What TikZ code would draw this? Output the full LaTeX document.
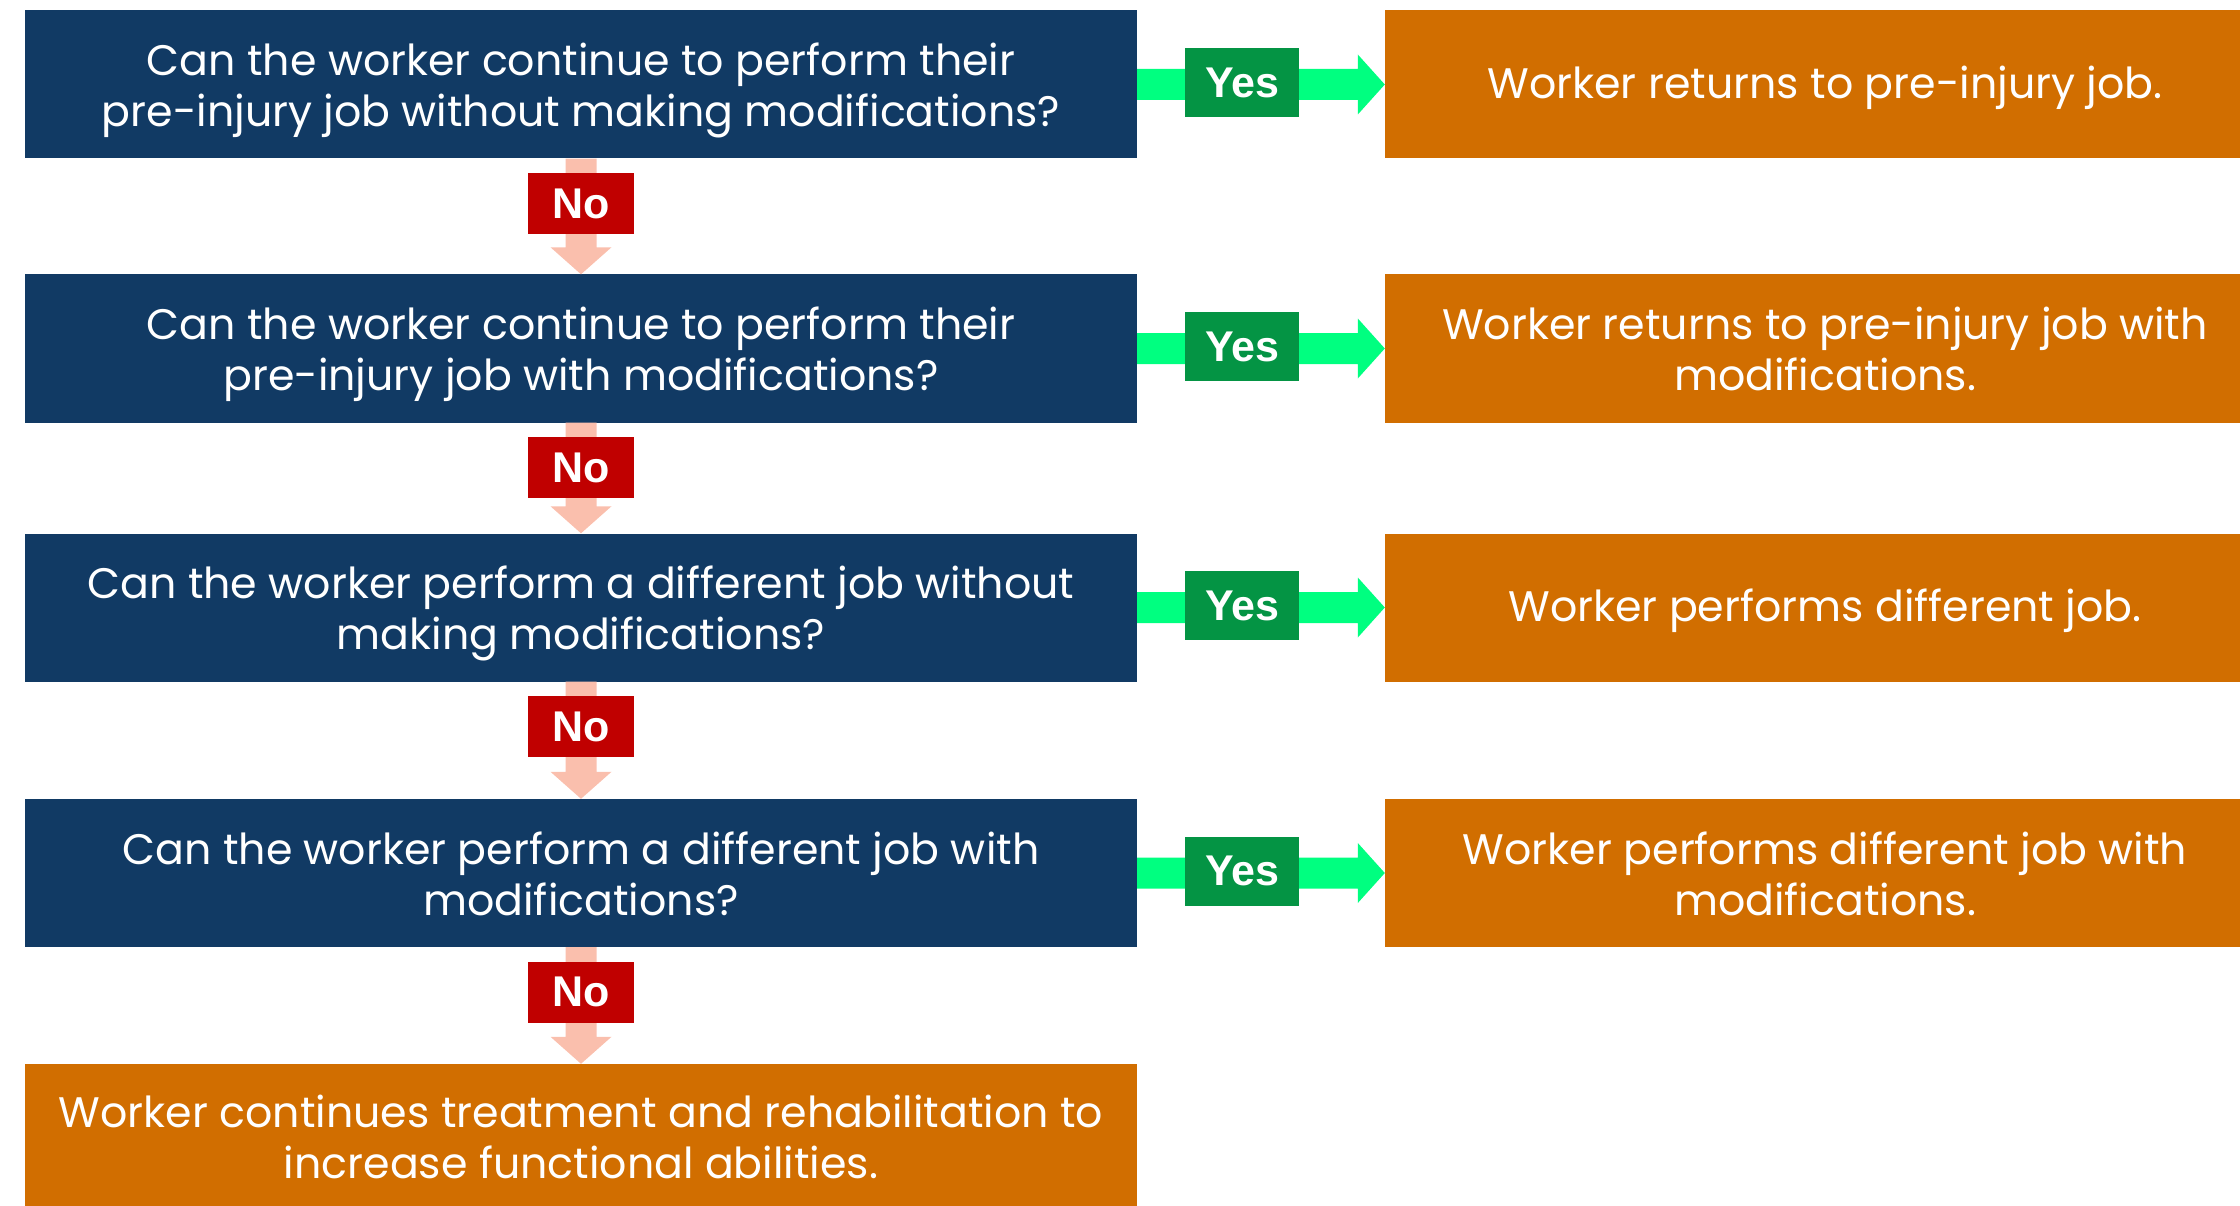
\documentclass[tikz,border=0pt]{standalone}
\usepackage{fontspec}
\setmainfont{Poppins}
\newfontfamily\labelfont{Liberation Sans}
\usetikzlibrary{calc}
\definecolor{navy}{HTML}{113A64}
\definecolor{orng}{HTML}{D16E00}
\definecolor{yesgreen}{HTML}{049444}
\definecolor{springg}{HTML}{00FF80}
\definecolor{nored}{HTML}{C00000}
\definecolor{salmon}{HTML}{FABFAD}
\tikzset{
  qbox/.style={fill=navy, minimum width=1112pt, minimum height=148pt, inner sep=0pt},
  abox/.style={fill=orng, minimum width=880pt, minimum height=148pt, inner sep=0pt},
  fbox/.style={fill=orng, minimum width=1112pt, minimum height=148pt, inner sep=0pt},
  txt/.style={text=white, inner sep=0pt, align=center, font=\fontsize{42.7}{51}\selectfont,
    execute at begin node={\strut}, execute at end node={\strut}},
  yeslab/.style={fill=yesgreen, text=white, minimum width=114pt, minimum height=69pt, inner sep=0pt, font=\labelfont\bfseries\fontsize{43}{43}\selectfont},
  nolab/.style={fill=nored, text=white, minimum width=106pt, minimum height=61pt, inner sep=0pt, font=\labelfont\bfseries\fontsize{43}{43}\selectfont},
  yesarrow/.style={fill=springg},
  noarrow/.style={fill=salmon}
}
\newcommand{\tdown}{4}
\newcommand{\tdowntwo}{8}
\begin{document}
\begin{tikzpicture}[x=1pt,y=-1pt]
\useasboundingbox (0,0) rectangle (2240,1206);
\clip (0,0) rectangle (2240,1206);
% question boxes
\node[qbox] (q1) at (581,84.5) {};
\node[qbox] (q2) at (581,348.5) {};
\node[qbox] (q3) at (581,607.5) {};
\node[qbox] (q4) at (581,873) {};
\node[fbox] (q5) at (581,1138) {};
\node[txt] (tq1) at ($(q1.center)+(0,\tdowntwo)$) {Can the worker continue to perform their\\pre-injury job without making modifications?};
\node[txt] (tq2) at ($(q2.center)+(0,\tdowntwo)$) {Can the worker continue to perform their\\pre-injury job with modifications?};
\node[txt] (tq3) at ($(q3.center)+(0,\tdowntwo)$) {Can the worker perform a different job without\\making modifications?};
\node[txt] (tq4) at ($(q4.center)+(0,\tdowntwo)$) {Can the worker perform a different job with\\modifications?};
\node[txt] (tq5) at ($(q5.center)+(0,6)$) {Worker continues treatment and rehabilitation to\\increase functional abilities.};
% answer boxes
\node[abox] (a1) at (1825,84.5) {};
\node[abox] (a2) at (1825,348.5) {};
\node[abox] (a3) at (1825,607.5) {};
\node[abox] (a4) at (1825,873) {};
\node[txt] (ta1) at ($(a1.center)+(0,\tdown)$) {Worker returns to pre-injury job.};
\node[txt] (ta2) at ($(a2.center)+(0,\tdowntwo)$) {Worker returns to pre-injury job with\\modifications.};
\node[txt] (ta3) at ($(a3.center)+(0,\tdown)$) {Worker performs different job.};
\node[txt] (ta4) at ($(a4.center)+(0,\tdowntwo)$) {Worker performs different job with\\modifications.};
% yes arrows
\foreach \i in {1,2,3,4}{
  \fill[yesarrow] ($(q\i.east)+(0,-15.5)$) -- ($(a\i.west)+(-27,-15.5)$) -- ($(a\i.west)+(-27,-30)$) -- (a\i.west) -- ($(a\i.west)+(-27,30)$) -- ($(a\i.west)+(-27,15.5)$) -- ($(q\i.east)+(0,15.5)$) -- cycle;
  \node[yeslab] (y\i) at ($(q\i.east)+(105,-2)$) {Yes};
}
% no arrows
\foreach \i/\j in {1/2,2/3,3/4,4/5}{
  \fill[noarrow] ($(q\i.south)+(-15.5,0)$) -- ($(q\j.north)+(-15.5,-27)$) -- ($(q\j.north)+(-30.5,-27)$) -- (q\j.north) -- ($(q\j.north)+(30.5,-27)$) -- ($(q\j.north)+(15.5,-27)$) -- ($(q\i.south)+(15.5,0)$) -- cycle;
  \node[nolab] (n\i) at ($(q\i.south)+(0,45)$) {No};
}
\end{tikzpicture}
\end{document}
